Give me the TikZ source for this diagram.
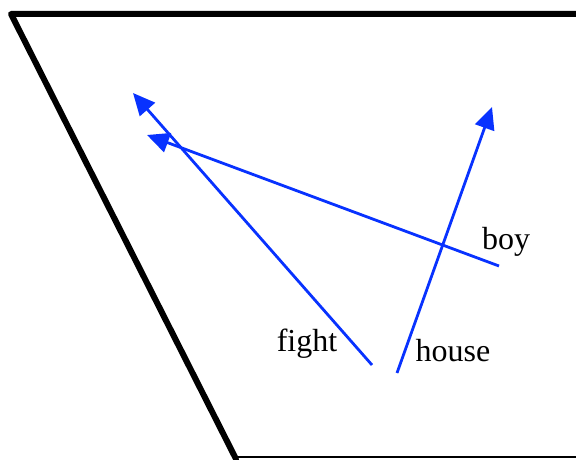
\documentclass[tikz,border=0pt]{standalone}
\usepackage{fontspec}
\setmainfont{Liberation Serif}
\usepackage{tikz}
\usetikzlibrary{arrows.meta}
\definecolor{vecblue}{RGB}{8,50,255}

\begin{document}
\begin{tikzpicture}[x=0.5pt,y=-0.5pt,font=\fontsize{16}{19}\selectfont,
    planeedge/.style={line width=3pt,line cap=round,line join=round},
    vecarrow/.style={vecblue,line width=1.4pt,-{Triangle[length=11pt,width=10pt]}},
    wordlabel/.style={inner sep=1pt}]
  \useasboundingbox (0,0) rectangle (576,459);
  % the plane
  \coordinate (topright) at (578,14);
  \coordinate (topleft) at (11,14);
  \coordinate (botleft) at (236,459);
  \coordinate (botright) at (578,457);
  \draw[planeedge] (topright) -- (topleft) -- (botleft);
  \draw[line width=1pt] (botleft |- botright) -- (botright);
  % word vectors
  \coordinate (fightstart) at (372,365);
  \coordinate (fighttip) at (133,93);
  \coordinate (boystart) at (499,266);
  \coordinate (boytip) at (147,135);
  \coordinate (housestart) at (397,373);
  \coordinate (housetip) at (492,107);
  \draw[vecarrow] (fightstart) -- (fighttip);
  \draw[vecarrow] (boystart) -- (boytip);
  \draw[vecarrow] (housestart) -- (housetip);
  \node[wordlabel] (fight) at (307,344) {fight};
  \node[wordlabel] (house) at (453,351) {house};
  \node[wordlabel] (boy) at (506,242) {boy};
\end{tikzpicture}
\end{document}
